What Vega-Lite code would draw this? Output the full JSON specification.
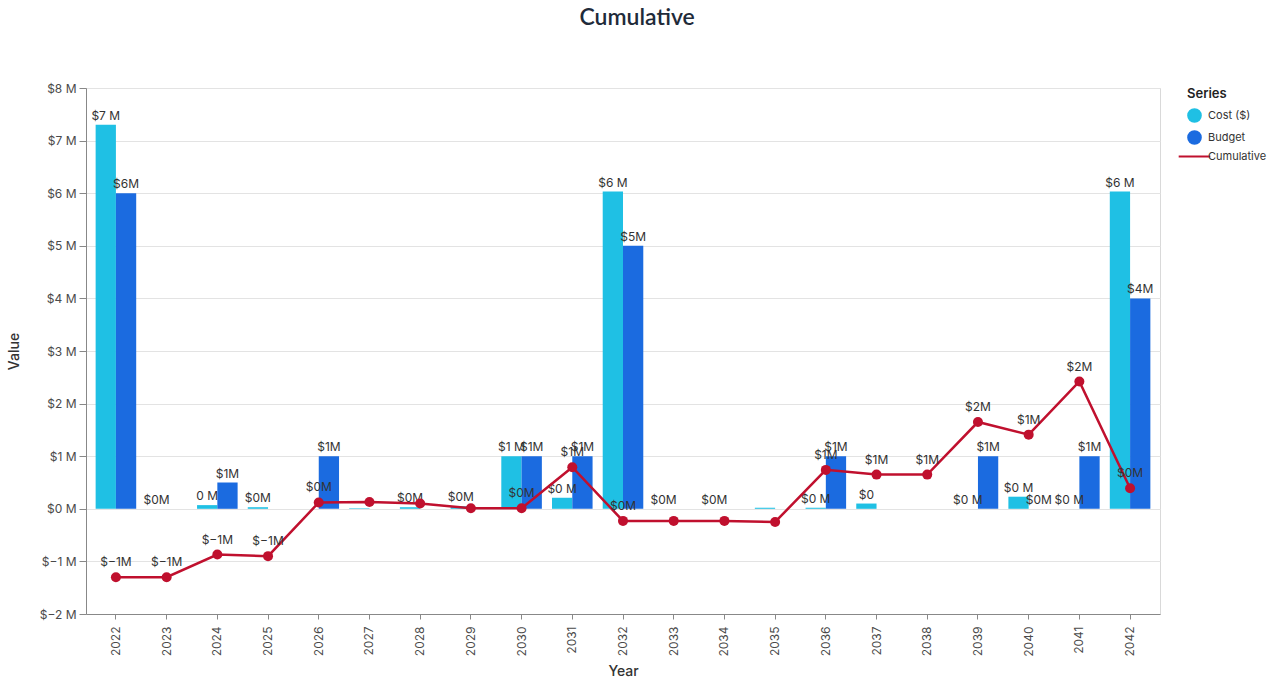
{
  "$schema": "https://vega.github.io/schema/vega-lite/v6.json",
  "width": 1074,
  "height": 526,
  "padding": {"left": 7, "top": 7, "right": 5, "bottom": 5},
  "background": "white",
  "title": {
    "text": "Cumulative",
    "fontSize": 23,
    "fontWeight": 600,
    "font": "Lato",
    "color": "#1f2b3a",
    "anchor": "middle",
    "frame": "bounds",
    "offset": 52
  },
  "config": {
    "font": "Inter",
    "view": {"stroke": "#d9d9d9"},
    "axis": {
      "labelFont": "Inter",
      "labelFontSize": 12,
      "labelColor": "#4a4a4a",
      "titleFont": "Inter",
      "titleFontSize": 14,
      "titleFontWeight": 500,
      "titleColor": "#333333",
      "domainColor": "#888888",
      "tickColor": "#888888",
      "gridColor": "#e3e3e3"
    },
    "legend": {
      "titleFont": "Inter",
      "titleFontSize": 13,
      "titleFontWeight": 600,
      "titleColor": "#222222",
      "labelFont": "Inter",
      "labelFontSize": 11,
      "labelColor": "#333333"
    }
  },
  "data": {
    "values": [
      {"Year": "2022", "Series": "Cost ($)", "Value": 7.30, "Label": "$7 M"},
      {"Year": "2022", "Series": "Budget", "Value": 6.00, "Label": "$6M"},
      {"Year": "2022", "Series": "Cumulative", "Value": -1.30, "Label": "$−1M"},
      {"Year": "2023", "Series": "Cost ($)", "Value": 0, "Label": "$0M"},
      {"Year": "2023", "Series": "Cumulative", "Value": -1.30, "Label": "$−1M"},
      {"Year": "2024", "Series": "Cost ($)", "Value": 0.07, "Label": "0 M"},
      {"Year": "2024", "Series": "Budget", "Value": 0.50, "Label": "$1M"},
      {"Year": "2024", "Series": "Cumulative", "Value": -0.87, "Label": "$−1M"},
      {"Year": "2025", "Series": "Cost ($)", "Value": 0.03, "Label": "$0M"},
      {"Year": "2025", "Series": "Cumulative", "Value": -0.90, "Label": "$−1M"},
      {"Year": "2026", "Series": "Budget", "Value": 1.00, "Label": "$1M"},
      {"Year": "2026", "Series": "Cumulative", "Value": 0.12, "Label": "$0M"},
      {"Year": "2027", "Series": "Cost ($)", "Value": 0.01, "Label": null},
      {"Year": "2027", "Series": "Cumulative", "Value": 0.13, "Label": null},
      {"Year": "2028", "Series": "Cost ($)", "Value": 0.03, "Label": "$0M"},
      {"Year": "2028", "Series": "Cumulative", "Value": 0.10, "Label": null},
      {"Year": "2029", "Series": "Cost ($)", "Value": 0.05, "Label": "$0M"},
      {"Year": "2029", "Series": "Cumulative", "Value": 0.01, "Label": null},
      {"Year": "2030", "Series": "Cost ($)", "Value": 1.00, "Label": "$1 M"},
      {"Year": "2030", "Series": "Budget", "Value": 1.00, "Label": "$1M"},
      {"Year": "2030", "Series": "Cumulative", "Value": 0.01, "Label": "$0M"},
      {"Year": "2031", "Series": "Cost ($)", "Value": 0.21, "Label": "$0 M"},
      {"Year": "2031", "Series": "Budget", "Value": 1.00, "Label": "$1M"},
      {"Year": "2031", "Series": "Cumulative", "Value": 0.79, "Label": "$1M"},
      {"Year": "2032", "Series": "Cost ($)", "Value": 6.03, "Label": "$6 M"},
      {"Year": "2032", "Series": "Budget", "Value": 5.00, "Label": "$5M"},
      {"Year": "2032", "Series": "Cumulative", "Value": -0.23, "Label": "$0M"},
      {"Year": "2033", "Series": "Cost ($)", "Value": 0, "Label": "$0M"},
      {"Year": "2033", "Series": "Cumulative", "Value": -0.23, "Label": null},
      {"Year": "2034", "Series": "Cost ($)", "Value": 0, "Label": "$0M"},
      {"Year": "2034", "Series": "Cumulative", "Value": -0.23, "Label": null},
      {"Year": "2035", "Series": "Cost ($)", "Value": 0.02, "Label": null},
      {"Year": "2035", "Series": "Cumulative", "Value": -0.25, "Label": null},
      {"Year": "2036", "Series": "Cost ($)", "Value": 0.02, "Label": "$0 M"},
      {"Year": "2036", "Series": "Budget", "Value": 1.00, "Label": "$1M"},
      {"Year": "2036", "Series": "Cumulative", "Value": 0.74, "Label": "$1M"},
      {"Year": "2037", "Series": "Cost ($)", "Value": 0.10, "Label": "$0"},
      {"Year": "2037", "Series": "Cumulative", "Value": 0.65, "Label": "$1M"},
      {"Year": "2038", "Series": "Cumulative", "Value": 0.65, "Label": "$1M"},
      {"Year": "2039", "Series": "Cost ($)", "Value": 0, "Label": "$0 M"},
      {"Year": "2039", "Series": "Budget", "Value": 1.00, "Label": "$1M"},
      {"Year": "2039", "Series": "Cumulative", "Value": 1.65, "Label": "$2M"},
      {"Year": "2040", "Series": "Cost ($)", "Value": 0.23, "Label": "$0 M"},
      {"Year": "2040", "Series": "Budget", "Value": 0, "Label": "$0M"},
      {"Year": "2040", "Series": "Cumulative", "Value": 1.41, "Label": "$1M"},
      {"Year": "2041", "Series": "Cost ($)", "Value": 0, "Label": "$0 M"},
      {"Year": "2041", "Series": "Budget", "Value": 1.00, "Label": "$1M"},
      {"Year": "2041", "Series": "Cumulative", "Value": 2.42, "Label": "$2M"},
      {"Year": "2042", "Series": "Cost ($)", "Value": 6.03, "Label": "$6 M"},
      {"Year": "2042", "Series": "Budget", "Value": 4.00, "Label": "$4M"},
      {"Year": "2042", "Series": "Cumulative", "Value": 0.39, "Label": "$0M"}
    ]
  },
  "encoding": {
    "x": {
      "field": "Year",
      "type": "ordinal",
      "scale": {"paddingInner": 0.2, "paddingOuter": 0.19},
      "axis": {"labelAngle": -90, "title": "Year", "titlePadding": 8, "labelPadding": 7, "tickSize": 5}
    },
    "y": {
      "field": "Value",
      "type": "quantitative",
      "scale": {"domain": [-2, 8], "nice": false},
      "axis": {
        "title": "Value",
        "values": [-2, -1, 0, 1, 2, 3, 4, 5, 6, 7, 8],
        "labelExpr": "'$' + format(datum.value, 'd') + ' M'",
        "titlePadding": 18,
        "labelPadding": 3,
        "tickSize": 7
      }
    }
  },
  "layer": [
    {
      "transform": [{"filter": "datum.Series !== 'Cumulative'"}],
      "layer": [
        {
          "mark": {"type": "bar"},
          "encoding": {
            "xOffset": {"field": "Series", "type": "nominal", "scale": {"domain": ["Cost ($)", "Budget"], "paddingInner": 0}},
            "color": {
              "field": "Series",
              "type": "nominal",
              "scale": {"domain": ["Cost ($)", "Budget", "Cumulative"], "range": ["#1fc0e4", "#1b6be0", "#c0102e"]},
              "legend": {
                "title": "Series",
                "orient": "right",
                "offset": 27,
                "symbolType": "circle",
                "symbolSize": 160,
                "rowPadding": 1,
                "titlePadding": 7,
                "labelOffset": 6,
                "encode": {
                  "title": {"update": {"y": {"value": 2}}},
                  "symbols": {
                    "update": {
                      "shape": {"signal": "datum.value === 'Cumulative' ? 'stroke' : 'circle'"},
                      "size": {"signal": "datum.value === 'Cumulative' ? 1000 : 160"},
                      "fill": {"signal": "datum.value === 'Cumulative' ? 'transparent' : (datum.value === 'Budget' ? '#1b6be0' : '#1fc0e4')"},
                      "stroke": {"signal": "datum.value === 'Cumulative' ? '#c0102e' : 'transparent'"},
                      "strokeWidth": {"value": 2},
                      "opacity": {"value": 1}
                    }
                  }
                }
              }
            }
          }
        },
        {
          "transform": [{"filter": "isValid(datum.Label)"}],
          "mark": {"type": "text", "baseline": "bottom", "dy": -2, "fontSize": 12, "color": "#333333"},
          "encoding": {
            "xOffset": {"field": "Series", "type": "nominal", "scale": {"domain": ["Cost ($)", "Budget"], "paddingInner": 0}},
            "text": {"field": "Label"}
          }
        }
      ]
    },
    {
      "transform": [{"filter": "datum.Series === 'Cumulative'"}],
      "layer": [
        {
          "mark": {"type": "line", "strokeWidth": 2.5, "color": "#c0102e"},
          "encoding": {
            "color": {"field": "Series", "type": "nominal"}
          }
        },
        {
          "mark": {"type": "point", "filled": true, "size": 100, "opacity": 1, "color": "#c0102e"},
          "encoding": {}
        },
        {
          "transform": [{"filter": "isValid(datum.Label)"}],
          "mark": {"type": "text", "baseline": "bottom", "dy": -8, "fontSize": 12, "color": "#333333"},
          "encoding": {"text": {"field": "Label"}}
        }
      ]
    }
  ]
}
